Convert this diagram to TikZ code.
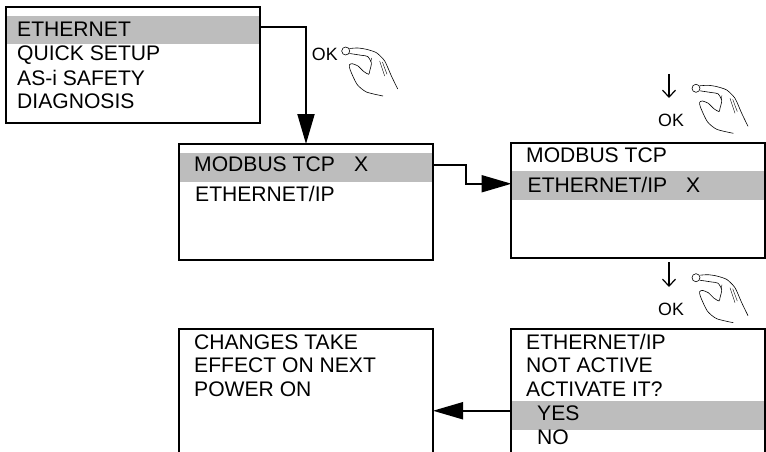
\documentclass[tikz,border=0pt]{standalone}
\usepackage{fontspec}
\setmainfont{Liberation Sans}
\usetikzlibrary{arrows.meta}
\definecolor{bandgray}{HTML}{BDBDBD}
\tikzset{
  menubox/.style={draw, line width=2pt, outer sep=0pt, inner sep=0pt, anchor=north west, minimum width=254pt},
  band/.style={fill=bandgray, outer sep=0pt, inner sep=0pt, anchor=north west, minimum width=253pt, minimum height=28.5pt},
  menutext/.style={inner sep=0pt, anchor=base west, font=\fontsize{21.1pt}{24pt}\selectfont},
  oktext/.style={inner sep=0pt, anchor=base west, font=\fontsize{17.8pt}{20pt}\selectfont},
  flow/.style={line width=2pt, -{Triangle[length=30pt,width=17pt]}},
  downarrow/.style={line width=1.2pt, -{Straight Barb[length=7pt,width=13pt]}},
  okhand/.pic={
    \draw[line width=0.6pt] (0,0) circle (4);
    \draw[line width=0.6pt] plot[smooth, tension=0.4] coordinates {(3.8,-2.5) (12,-3) (20.7,-1.7) (30.7,1.7) (39,10) (45.7,25) (52,38)};
    \draw[line width=0.6pt] plot[smooth, tension=0.4] coordinates {(3.8,2.5) (15.7,4.3) (22,5.5) (25.7,12) (24,20) (23,23.3) (18,20.5) (12.3,15) (6.5,12.7) (3.6,14) (4.5,19) (11.3,33.3) (20.7,41) (37.3,45)};
    \draw[line width=0.4pt] (26,7) -- (25,11) (34,10) -- (39,25) (36.7,11) -- (41.3,23.3);
  },
}
\begin{document}
\begin{tikzpicture}[x=1pt, y=-1pt]
\useasboundingbox (0,0) rectangle (766,452);
\clip (0,0) rectangle (766,452);
% bands
\node[band] (band1) at (7,16) {};
\node[band] (band2) at (179.5,153) {};
\node[band] (band3) at (511.5,171) {};
\node[band] (band5) at (511.5,401) {};
% boxes
\node[menubox, minimum height=116pt] (box1) at (6,7) {};
\node[menubox, minimum height=116pt] (box2) at (179,144) {};
\node[menubox, minimum height=115pt] (box3) at (511,143) {};
\node[menubox, minimum height=140pt] (box4) at (179,329) {};
\node[menubox, minimum height=140pt] (box5) at (511,329) {};
% texts
\node[menutext] (eth) at (17,36.7) {ETHERNET};
\node[menutext] (quick) at (17,60.5) {QUICK SETUP};
\node[menutext] (safety) at (17,85) {AS-i SAFETY};
\node[menutext] (diag) at (17,109) {DIAGNOSIS};
\node[menutext] (modbusa) at (194,171) {MODBUS TCP};
\node[menutext] (xa) at (354,171) {X};
\node[menutext] (etha) at (195,201.5) {ETHERNET/IP};
\node[menutext] (modbusb) at (526,162.7) {MODBUS TCP};
\node[menutext] (ethb) at (527.5,192.7) {ETHERNET/IP};
\node[menutext] (xb) at (686,192.7) {X};
\node[menutext] (changes) at (194,349.3) {CHANGES TAKE};
\node[menutext] (effect) at (194,372.7) {EFFECT ON NEXT};
\node[menutext] (power) at (194,396.7) {POWER ON};
\node[menutext] (ethc) at (526,349.3) {ETHERNET/IP};
\node[menutext] (notactive) at (526,372.7) {NOT ACTIVE};
\node[menutext] (activate) at (526,396.5) {ACTIVATE IT?};
\node[menutext] (yes) at (537,420.7) {YES};
\node[menutext] (no) at (537,444.3) {NO};
% connectors
\draw[flow] ([yshift=3pt]band1.east) -| (box2.north);
\draw[flow] ([yshift=1.9pt]band2.east) -- ++(33,0) |- ([yshift=1.5pt]band3.west);
\draw[flow] ([yshift=4.5pt]band5.west) -- ([yshift=4.5pt]band5.west -| box4.east);
% ok hands
\node[oktext] (oka) at (311.7,60) {OK};
\pic at (345.7,51) {okhand};
\node[oktext] (okb) at (658,126.7) {OK};
\coordinate (downb) at (669,74);
\draw[downarrow] (downb) -- ++(0,24);
\pic at (696,88.3) {okhand};
\node[oktext] (okc) at (658,315) {OK};
\coordinate (downc) at (669,262);
\draw[downarrow] (downc) -- ++(0,25);
\pic at (696,277.7) {okhand};
\end{tikzpicture}
\end{document}
